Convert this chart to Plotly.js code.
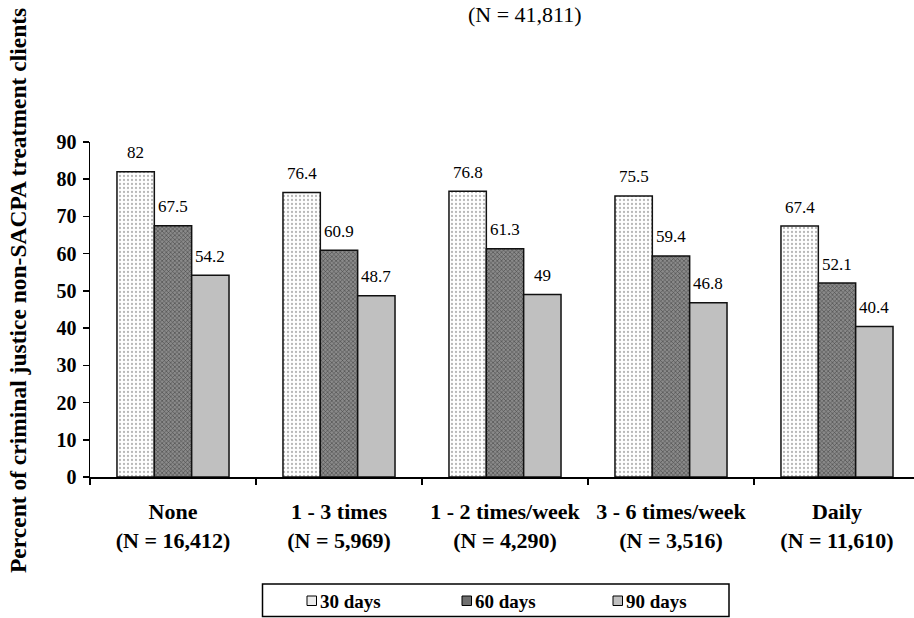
<!DOCTYPE html>
<html>
<head>
<meta charset="utf-8">
<script src="https://cdn.plot.ly/plotly-3.0.1.min.js"></script>
<style>
html,body{margin:0;padding:0;background:#fff;overflow:hidden;}
#chart{width:914px;height:618px;}
</style>
</head>
<body>
<div id="chart"></div>
<script>
const categories = [
  "None<br>(N = 16,412)",
  "1 - 3 times<br>(N = 5,969)",
  "1 - 2 times/week<br>(N = 4,290)",
  "3 - 6 times/week<br>(N = 3,516)",
  "Daily<br>(N = 11,610)"
];
const seriesNames = ["30 days", "60 days", "90 days"];
const days30 = [82, 76.4, 76.8, 75.5, 67.4];
const days60 = [67.5, 60.9, 61.3, 59.4, 52.1];
const days90 = [54.2, 48.7, 49, 46.8, 40.4];
const yTickVals = [0, 10, 20, 30, 40, 50, 60, 70, 80, 90];
const titleText = "(N = 41,811)";
const yTitleText = "Percent of criminal justice non-SACPA treatment clients";

const FONT = "'Liberation Serif', 'Times New Roman', serif";
const xIdx = categories.map((c, i) => i);

// plot box in pixels (for placing non-data furniture)
const PL = 90, PW = 824, PB = 477, PH = 335;
const px = v => (v - PL) / PW;
const py = v => (PB - v) / PH;

const styles = [
  {pattern: {shape: ".", fillmode: "replace", bgcolor: "#ffffff", fgcolor: "#b8b8b8", size: 4, solidity: 0.25}, color: "#ffffff", swatch: "#ececec"},
  {pattern: {shape: "x", fillmode: "replace", bgcolor: "#8a8a8a", fgcolor: "#474747", size: 3, solidity: 0.35}, color: "#7a7a7a", swatch: "#6f6f6f"},
  {pattern: null, color: "#c0c0c0", swatch: "#c0c0c0"}
];
const allSeries = [days30, days60, days90];

const traces = allSeries.map((vals, s) => {
  const marker = {color: styles[s].color, line: {color: "#111111", width: 1.5}};
  if (styles[s].pattern) marker.pattern = styles[s].pattern;
  return {
    type: "bar",
    name: seriesNames[s],
    x: xIdx,
    y: vals,
    marker: marker,
    showlegend: false,
    hoverinfo: "skip"
  };
});

const annotations = [];
const shapes = [];
const offsets = [-37.3, 0, 37.3];
allSeries.forEach((vals, s) => {
  vals.forEach((v, i) => {
    annotations.push({
      xref: "x", yref: "y", x: xIdx[i], y: v,
      xshift: offsets[s], yshift: 19,
      text: String(v), showarrow: false,
      xanchor: "center", yanchor: "middle",
      font: {family: FONT, size: 17, color: "#000"}
    });
  });
});
annotations.push({
  xref: "paper", yref: "paper", x: px(525), y: py(14),
  xanchor: "center", yanchor: "middle", showarrow: false,
  text: titleText, font: {family: FONT, size: 22, color: "#000"}
});
annotations.push({
  xref: "paper", yref: "paper", x: px(18), y: py(291),
  xanchor: "center", yanchor: "middle", showarrow: false, textangle: -90,
  text: "<b>" + yTitleText + "</b>", font: {family: FONT, size: 23.5, color: "#000"}
});

// hand-built legend box
shapes.push({type: "rect", xref: "paper", yref: "paper",
  x0: px(262.5), x1: px(729), y0: py(584), y1: py(616.5),
  line: {color: "#000", width: 1.5}, fillcolor: "#fff", layer: "above"});
const legendSymX = [307, 462, 613];
seriesNames.forEach((name, s) => {
  shapes.push({type: "rect", xref: "paper", yref: "paper",
    x0: px(legendSymX[s]), x1: px(legendSymX[s] + 9.5), y0: py(596), y1: py(605.5),
    line: {color: "#000", width: 1}, fillcolor: styles[s].swatch, layer: "above"});
  annotations.push({xref: "paper", yref: "paper", x: px(legendSymX[s] + 11), y: py(601),
    xanchor: "left", yanchor: "middle", showarrow: false,
    text: "<b>" + name + "</b>", font: {family: FONT, size: 19, color: "#000"}});
});

const layout = {
  width: 914, height: 618,
  margin: {l: 90, r: 0, t: 142, b: 141, pad: 0},
  paper_bgcolor: "#ffffff", plot_bgcolor: "#ffffff",
  barmode: "group", bargap: 0.325, bargroupgap: 0,
  showlegend: false,
  font: {family: FONT, color: "#000"},
  xaxis: {
    type: "linear",
    range: [-0.5, 4.5 - 6 / 166],
    tickmode: "array",
    tickvals: xIdx,
    ticktext: categories.map(c => "<b>" + c.replace("<br>", "</b><br><b>") + "</b>"),
    ticks: "", showgrid: false, zeroline: false,
    showline: true, linecolor: "#000", linewidth: 1.5,
    tickfont: {family: FONT, size: 22, color: "#000"},
    ticklabelstandoff: 14
  },
  xaxis2: {
    overlaying: "x", matches: "x", range: [-0.5, 4.5 - 6 / 166],
    tickmode: "array", tickvals: [-0.5, 0.5, 1.5, 2.5, 3.5],
    ticks: "outside", ticklen: 7, tickwidth: 1.5, tickcolor: "#000",
    showticklabels: false, showgrid: false, zeroline: false, showline: false,
    anchor: "y", side: "bottom"
  },
  yaxis: {
    range: [0, 90], tickmode: "array", tickvals: yTickVals,
    ticks: "outside", ticklen: 6, tickwidth: 1.5, tickcolor: "#000",
    showgrid: false, zeroline: false,
    showline: true, linecolor: "#000", linewidth: 1.5,
    tickfont: {family: FONT, size: 20, color: "#000", weight: "bold"},
    ticklabelstandoff: 2
  },
  annotations: annotations,
  shapes: shapes
};

traces.push({type: "scatter", x: [-0.5], y: [0], xaxis: "x2", yaxis: "y", mode: "markers",
  marker: {opacity: 0}, showlegend: false, hoverinfo: "skip"});

Plotly.newPlot("chart", traces, layout, {displayModeBar: false, staticPlot: true});
</script>
</body>
</html>
